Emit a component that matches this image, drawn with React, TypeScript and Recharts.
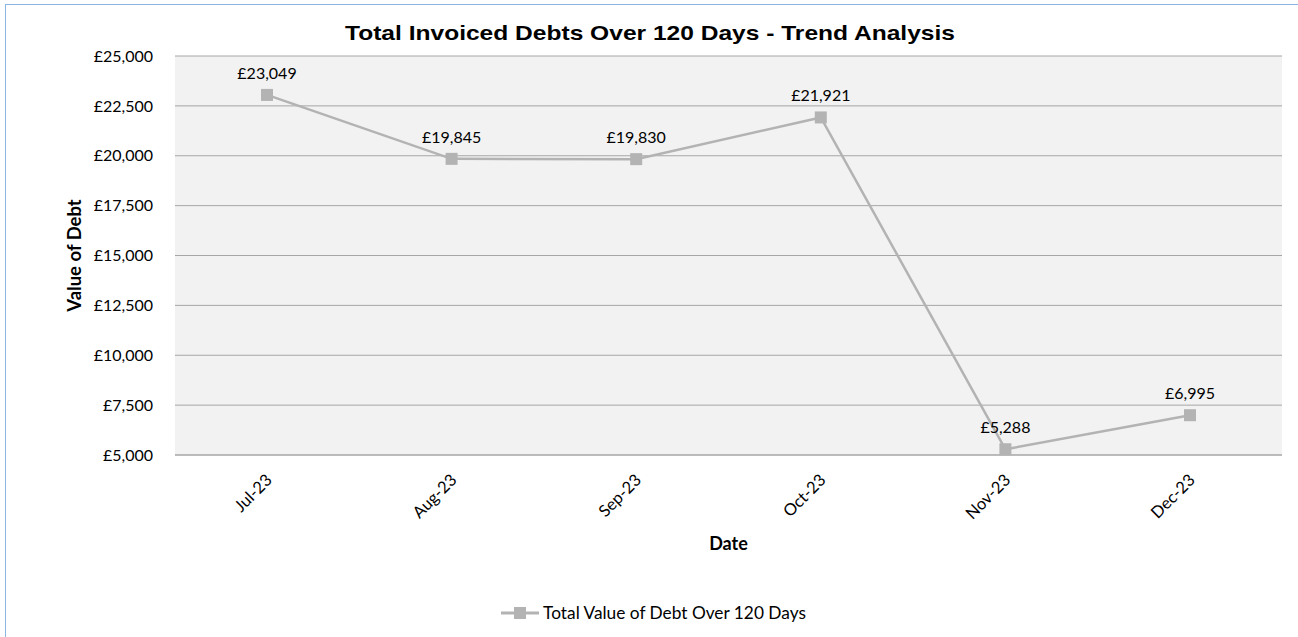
import React from 'react';
import { LineChart, Line, XAxis, YAxis, CartesianGrid, Legend, LabelList } from 'recharts';

const months = ['Jul-23', 'Aug-23', 'Sep-23', 'Oct-23', 'Nov-23', 'Dec-23'];
const debtValues = [23049, 19845, 19830, 21921, 5288, 6995];
const yTicks = [5000, 7500, 10000, 12500, 15000, 17500, 20000, 22500, 25000];
const seriesName = 'Total Value of Debt Over 120 Days';
const chartTitle = 'Total Invoiced Debts Over 120 Days - Trend Analysis';

const data = months.map((m, i) => ({ month: m, value: debtValues[i] }));

const FONT = 'Lato, "Noto Sans", sans-serif';
const LINE = '#B3B3B3';

const fmt = (v: number) => '£' + v.toLocaleString('en-GB');

const SquareDot = (props: any) => {
  const { cx, cy } = props;
  if (cx == null || cy == null) return null;
  return <rect x={cx - 6} y={cy - 6} width={12} height={12} fill={LINE} />;
};

const XTick = (props: any) => {
  const { x, y, payload } = props;
  return (
    <g transform={`translate(${x + 2},${y + 14})`}>
      <text transform="rotate(-45)" textAnchor="end" dy="0.35em" fill="#000" fontFamily={FONT} fontSize={16.5}>
        {payload.value}
      </text>
    </g>
  );
};

const LegendContent = () => (
  <div style={{ display: 'flex', justifyContent: 'center', alignItems: 'center', fontFamily: FONT, fontSize: 17.3, color: '#000', paddingRight: 35 }}>
    <svg width={38} height={14} style={{ marginRight: 4 }}>
      <line x1={0} y1={7} x2={38} y2={7} stroke={LINE} strokeWidth={3} />
      <rect x={13} y={1} width={12} height={12} fill={LINE} />
    </svg>
    <span>{seriesName}</span>
  </div>
);

export default function App() {
  return (
    <div style={{ position: 'absolute', left: 0, top: 0, width: 1298, height: 637, background: '#fff', overflow: 'hidden' }}>
      <div style={{ position: 'absolute', left: 5, top: 4, width: 1300, height: 640, border: '1px solid #8EB4E3', boxSizing: 'border-box' }} />
      <svg width={1298} height={60} style={{ position: 'absolute', left: 0, top: 0 }}>
        <text x={650} y={40} textAnchor="middle" textLength={610} lengthAdjust="spacingAndGlyphs" fontFamily='"Liberation Sans", Arial, sans-serif' fontWeight="bold" fontSize={21} fill="#000">
          {chartTitle}
        </text>
      </svg>
      <LineChart width={1298} height={637} data={data} margin={{ top: 56, right: 16, bottom: 13, left: 60 }} style={{ position: 'absolute', left: 0, top: 0 }}>
        <CartesianGrid vertical={false} horizontal stroke="#A6A6A6" fill="#F2F2F2" />
        <XAxis
          dataKey="month"
          padding={{ left: 92, right: 92 }}
          tickLine={false}
          axisLine={{ stroke: '#A6A6A6' }}
          tick={<XTick />}
          height={147}
          interval={0}
          label={{ value: 'Date', position: 'insideTop', offset: 82, fontFamily: FONT, fontSize: 18, fontWeight: 'bold', fill: '#000' }}
        />
        <YAxis
          domain={[5000, 25000]}
          ticks={yTicks}
          tickFormatter={fmt}
          tickLine={false}
          axisLine={false}
          tickSize={0}
          tickMargin={22}
          width={115}
          tick={{ fontFamily: FONT, fontSize: 16, fill: '#000' }}
          label={{ value: 'Value of Debt', angle: -90, position: 'insideLeft', offset: 14, style: { textAnchor: 'middle' }, fontFamily: FONT, fontSize: 18.5, fontWeight: 'bold', fill: '#000' }}
        />
        <Legend verticalAlign="bottom" height={22} content={<LegendContent />} />
        <Line
          type="linear"
          dataKey="value"
          name={seriesName}
          stroke={LINE}
          strokeWidth={2.5}
          dot={<SquareDot />}
          activeDot={false}
          isAnimationActive={false}
        >
          <LabelList dataKey="value" position="top" offset={16} formatter={(v: any) => fmt(Number(v))} fontFamily={FONT} fontSize={16} fill="#000" />
        </Line>
      </LineChart>
    </div>
  );
}
